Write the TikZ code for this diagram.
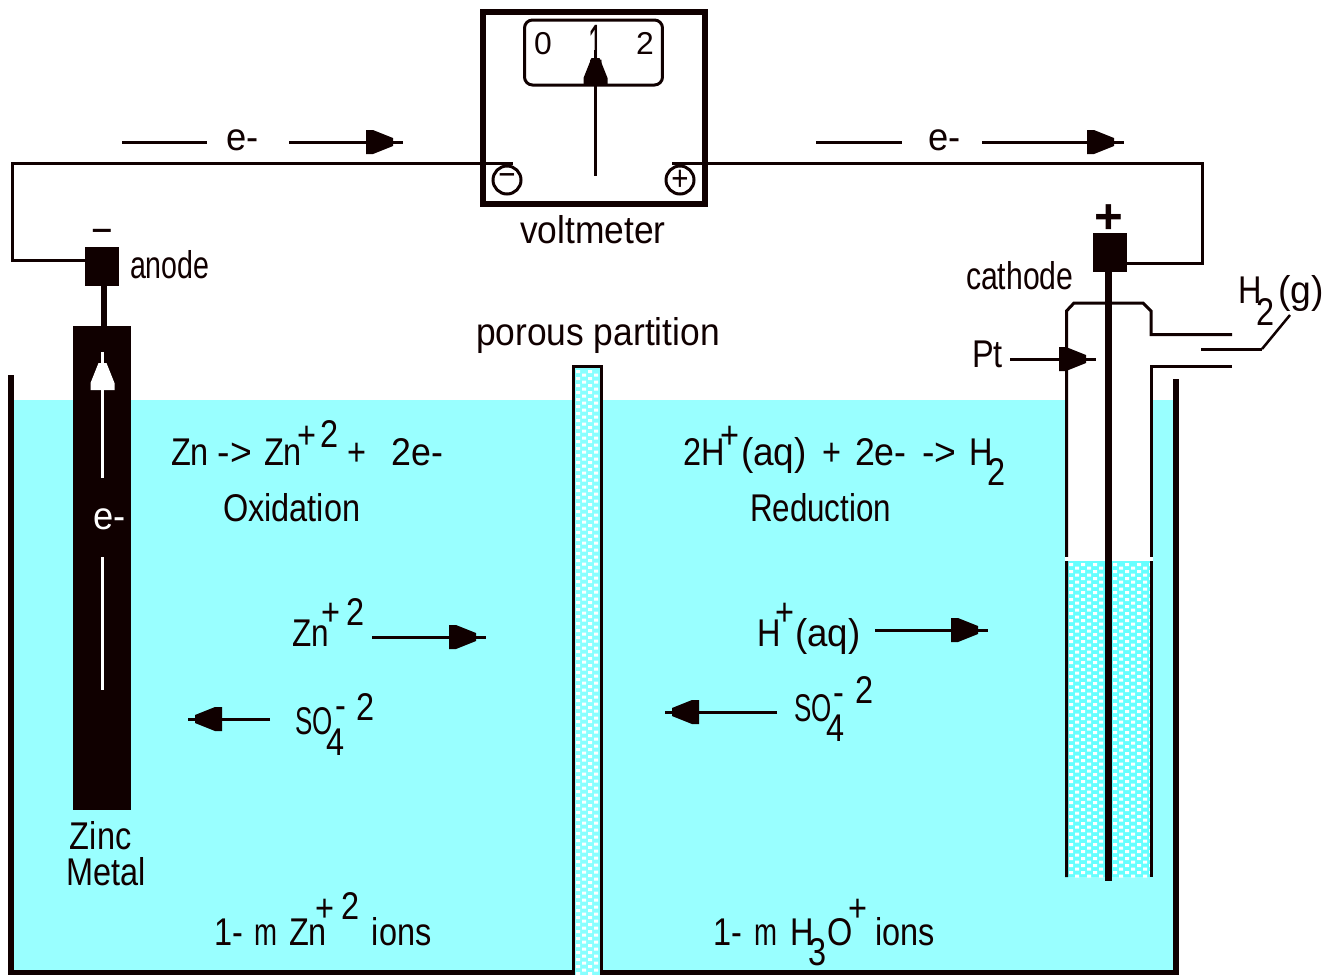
\documentclass[tikz,border=0pt]{standalone}
\usepackage{graphicx}
\usepackage{fontspec}
\setmainfont[FakeStretch=0.84]{Liberation Sans}
\newfontfamily\boldsym{Liberation Sans Bold}
\definecolor{ink}{HTML}{100000}
\definecolor{liquid}{HTML}{99FFFF}
\definecolor{tubefill}{HTML}{66FFFF}
\definecolor{wallfill}{HTML}{88FFFF}
\newdimen\px \px=0.02cm
\newcommand{\frag}[3]{\rlap{\kern#1\px\raise#2\px\hbox{#3}}\ignorespaces}
\newcommand{\sx}[2]{\scalebox{#1}[1]{#2}}
\newcommand{\dotfield}[4]{%
  \begin{scope}
  \clip (#1,#3) rectangle (#2,#4);
  \fill[white]
  \foreach \col in {0,...,14} {
    \foreach \row in {0,...,90} {
      ({#1+1+6*\col},{#3+2+7*\row+3.5*mod(\col,2)}) rectangle ++(4,3)
    }
  };
  \end{scope}}
\tikzset{
  x=0.02cm,y=-0.02cm,
  wire/.style={draw=ink,line width=0.06cm},
  thickwall/.style={fill=ink,draw=none},
  tx/.style={inner sep=0pt,outer sep=0pt,anchor=base west,text=ink,font=\fontsize{22}{24}\selectfont},
  dial/.style={inner sep=0pt,outer sep=0pt,anchor=base west,text=ink,font=\fontsize{18}{20}\selectfont},
  whitetx/.style={tx,text=white},
  sym/.style={inner sep=0pt,outer sep=0pt,anchor=base,text=ink},
  termring/.style={circle,draw=ink,line width=0.06cm,minimum size=0.56cm,inner sep=0pt,text=ink,font=\fontsize{20}{20}\selectfont},
  pics/arrowtip/.style={code={\fill[#1] (0,-12) -- (7,-12) -- (27,-4) -- (27,4) -- (7,12) -- (0,12) -- cycle;}}
}
\begin{document}
\begin{tikzpicture}
\useasboundingbox (0,0) rectangle (1323,975);
% liquid and tube interior
\fill[liquid] (14,400) rectangle (1173,970);
\fill[white] (1068,304) rectangle (1150,557);
\fill[tubefill] (1068,561) rectangle (1150,877);
\dotfield{1068}{1106}{561}{877}
\dotfield{1112}{1150}{561}{877}
% tank
\fill[thickwall] (8,375) rectangle (14,975);
\fill[thickwall] (1173,379) rectangle (1179,975);
\fill[thickwall] (8,970) rectangle (1179,975);
% partition
\fill[wallfill] (572,365) rectangle (603,975);
\dotfield{575}{600}{368}{975}
\draw[wire] (573.5,975) -- (573.5,366.5) -- (601.5,366.5) -- (601.5,975);
% gas tube
\draw[wire] (1066.5,877) -- (1066.5,311) -- (1074,303) -- (1143,303) -- (1151,311) -- (1151,334.5) -- (1232,334.5);
\draw[wire] (1232,366.5) -- (1151,366.5) -- (1151,877);
\fill[white] (1065,557) rectangle (1153,561);
\fill[thickwall] (1105,272) rectangle (1112,881);
\coordinate (gasA) at (1201,349);
\coordinate (gasB) at (1262,349);
\coordinate (gasC) at (1290,315);
\draw[wire] (gasA) -- (gasB);
\draw[ink,line width=0.05cm] (gasB) -- (gasC);
% voltmeter
\node[draw=ink,line width=0.12cm,fill=white,minimum width=4.44cm,minimum height=3.84cm,inner sep=0pt,outer sep=0pt] (volt) at (594,108) {};
\node[draw=ink,line width=0.06cm,rounded corners=0.16cm,minimum width=2.76cm,minimum height=1.3cm,inner sep=0pt] (dial) at (593.5,52.5) {};
\node[dial] (d0) at (534,54) {\sx{1.2}{0}};
\node[dial] (d1) at (588,64) {\scalebox{1}[1.8]{1}};
\node[dial] (d2) at (636,54) {\sx{1.2}{2}};
\coordinate (needleA) at (595.5,50);
\coordinate (needleB) at (595.5,176);
\draw[wire] (needleA) -- (needleB);
\pic[rotate=90] at (595.5,85) {arrowtip=ink};
\node[termring] (neg) at (507,180) {−};
\node[termring] (pos) at (680,180) {+};
\node[tx] (voltlab) at (520,243) {\sx{1.09}{voltmeter}};
% electrodes
\node[fill=ink,minimum width=0.68cm,minimum height=0.78cm,inner sep=0pt,outer sep=0pt] (anodeT) at (102,266.5) {};
\fill[thickwall] (101,286) rectangle (107,326);
\node[fill=ink,minimum width=1.16cm,minimum height=9.68cm,inner sep=0pt,outer sep=0pt] (zinc) at (102,568) {};
\node[fill=ink,minimum width=0.68cm,minimum height=0.78cm,inner sep=0pt,outer sep=0pt] (cathT) at (1110,252.5) {};
\node[sym,font=\fontsize{25}{25}\selectfont] (minus) at (102,245.5) {−};
\node[sym,font=\fontsize{28}{28}\selectfont\boldsym] (plus) at (1108.5,233) {+};
% external wires
\coordinate (wa) at (85,260);
\coordinate (wb) at (12.5,260);
\coordinate (wc) at (12.5,163);
\coordinate (wd) at (513,163);
\draw[wire] (wa) -- (wb) -- (wc) -- (wd);
\coordinate (we) at (672,163);
\coordinate (wf) at (1202,163);
\coordinate (wg) at (1202,263);
\coordinate (wh) at (1127,263);
\draw[wire] (we) -- (wf) -- (wg) -- (wh);
% white arrow on zinc
\coordinate (zA) at (102.5,478);
\coordinate (zB) at (102.5,352);
\coordinate (zC) at (102.5,557);
\coordinate (zD) at (102.5,690);
\draw[white,line width=0.06cm] (zA) -- (zB);
\draw[white,line width=0.06cm] (zC) -- (zD);
\pic[rotate=90] at (102.5,390) {arrowtip=white};
\node[whitetx] (ezinc) at (93,529) {\sx{1.12}{e-}};
% electron arrows
\coordinate (e1a) at (122,142); \coordinate (e1b) at (207,142);
\coordinate (e1c) at (289,142); \coordinate (e1d) at (403,142);
\draw[wire] (e1a) -- (e1b); \draw[wire] (e1c) -- (e1d);
\pic at (366,142) {arrowtip=ink};
\node[tx] (e1) at (226,150) {\sx{1.12}{e-}};
\coordinate (e2a) at (816,142); \coordinate (e2b) at (902,142);
\coordinate (e2c) at (982,142); \coordinate (e2d) at (1124,142);
\draw[wire] (e2a) -- (e2b); \draw[wire] (e2c) -- (e2d);
\pic at (1087,142) {arrowtip=ink};
\node[tx] (e2) at (928,150) {\sx{1.12}{e-}};
% Pt arrow
\node[tx] (pt) at (972,367) {Pt};
\coordinate (pta) at (1010,359); \coordinate (ptb) at (1096,359);
\draw[wire] (pta) -- (ptb);
\pic at (1059,359) {arrowtip=ink};
% ion arrows
\coordinate (a1) at (372,637); \coordinate (a2) at (486,637);
\draw[wire] (a1) -- (a2); \pic at (449,637) {arrowtip=ink};
\coordinate (a3) at (270,719); \coordinate (a4) at (188,719);
\draw[wire] (a3) -- (a4); \pic[xscale=-1] at (222,719) {arrowtip=ink};
\coordinate (a5) at (875,630); \coordinate (a6) at (988,630);
\draw[wire] (a5) -- (a6); \pic at (951,630) {arrowtip=ink};
\coordinate (a7) at (777,712); \coordinate (a8) at (665,712);
\draw[wire] (a7) -- (a8); \pic[xscale=-1] at (699,712) {arrowtip=ink};
% labels
\node[tx] (anodelab) at (130,278) {\sx{.88}{anode}};
\node[tx] (cathlab) at (966,289) {\sx{.93}{cathode}};
\node[tx] (porous) at (476,345) {\sx{1.09}{porous partition}};
\node[tx] (h2g) at (1238,303) {\frag{0}{0}{H}\frag{18}{-22}{2}\frag{40}{0}{\sx{1.15}{(g)}}\kern84\px};
\node[tx] (eqa) at (171,465) {\frag{0}{0}{Zn}\frag{47}{0}{\sx{1.15}{->}}\frag{93}{0}{Zn}\frag{126}{17}{+}\frag{149}{18}{2}\frag{177}{0}{+}\frag{221}{0}{\sx{1.1}{2e-}}\kern272\px};
\node[tx] (oxi) at (223,521) {Oxidation};
\node[tx] (eqb) at (683,465) {\frag{0}{0}{2H}\frag{37}{17}{+}\frag{58}{0}{\sx{1.14}{(aq)}}\frag{139}{0}{+}\frag{172}{0}{\sx{1.1}{2e-}}\frag{239}{0}{\sx{1.15}{->}}\frag{286}{0}{H}\frag{304}{-20}{2}\kern322\px};
\node[tx] (red) at (750,521) {\sx{.965}{Reduction}};
\node[tx] (znion) at (292,646) {\frag{0}{0}{\sx{.97}{Zn}}\frag{29}{21}{+}\frag{55}{21}{2}\kern72\px};
\node[tx] (soa) at (295,734) {\frag{0}{0}{\sx{.8}{SO}}\frag{40}{16}{-}\frag{61}{14}{2}\frag{31}{-21}{4}\kern77\px};
\node[tx] (hion) at (757,646) {\frag{0}{0}{H}\frag{18}{21}{+}\frag{38}{0}{\sx{1.13}{(aq)}}\kern101\px};
\node[tx] (sob) at (794,721) {\frag{0}{0}{\sx{.8}{SO}}\frag{39}{16}{-}\frag{61}{18}{2}\frag{32}{-20}{4}\kern77\px};
\node[tx] (zinclab) at (70,849) {Zinc};
\node[tx] (metallab) at (66,885) {Metal};
\node[tx] (conca) at (214,945) {\frag{0}{0}{1}\frag{18}{0}{-}\frag{41}{0}{\sx{.85}{m}}\frag{75}{0}{Zn}\frag{102}{24}{+}\frag{127}{26}{2}\frag{158}{0}{ions}\kern217\px};
\node[tx] (concb) at (713,945) {\frag{0}{0}{1}\frag{18}{0}{-}\frag{41}{0}{\sx{.85}{m}}\frag{77}{0}{H}\frag{95}{-20}{3}\frag{114}{0}{O}\frag{135}{24}{+}\frag{162}{0}{ions}\kern221\px};
\end{tikzpicture}
\end{document}
